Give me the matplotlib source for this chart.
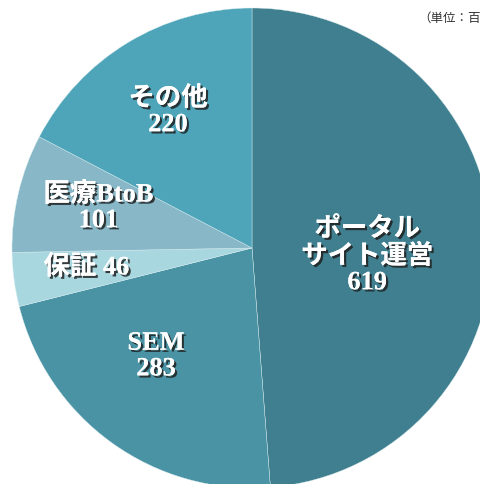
import matplotlib
matplotlib.use("Agg")
import matplotlib.pyplot as plt
import matplotlib.patheffects as pe

# data (百万円)
labels = ["ポータル\nサイト運営\n619", "SEM\n283", "保証 46", "医療BtoB\n101", "その他\n220"]
values = [619, 283, 46, 101, 220]
colors = ["#3f7f8f", "#4a93a4", "#a8d7e0", "#88b8c8", "#4ea5b9"]
label_pos = [(0.48, -0.03), (-0.40, -0.45), (-0.69, -0.08), (-0.64, 0.17), (-0.35, 0.57)]

fonts = ["Liberation Serif", "Noto Sans CJK JP", "DejaVu Sans"]

fig = plt.figure(figsize=(4.81, 4.84), dpi=100)
# pie centre ~ (252, 248) px, radius ~240 px
ax = fig.add_axes([12 / 481, -4 / 484, 480 / 481, 480 / 484])
ax.pie(values, colors=colors, startangle=90, counterclock=False, radius=1.0,
       wedgeprops=dict(linewidth=0.3, edgecolor="#d8ecef"))
ax.set_xlim(-1, 1)
ax.set_ylim(-1, 1)
ax.set_aspect("auto")
ax.axis("off")

shadow = [pe.withSimplePatchShadow(offset=(1.6, -1.6), shadow_rgbFace="#202020", alpha=0.85),
          pe.Normal()]
for lab, (x, y) in zip(labels, label_pos):
    ax.text(x, y, lab, ha="center", va="center", color="white", fontsize=19,
            fontweight="bold", family=fonts, linespacing=1.15, path_effects=shadow)

# unit note, cut off at the right edge as in the original
fig.text(418 / 481, 1 - 18 / 484, "（単位：百万円）", ha="left", va="center",
         fontsize=9, color="#333333", family=["Noto Sans CJK JP", "DejaVu Sans"])

fig.savefig("out.png", dpi=100)
